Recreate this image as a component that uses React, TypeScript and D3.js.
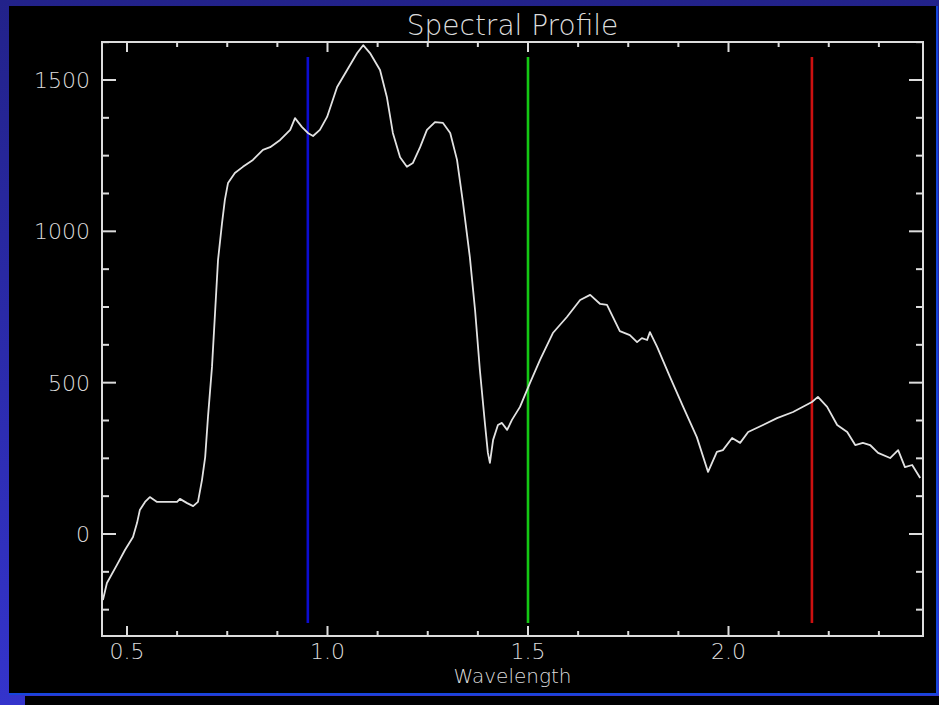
import React from "react";
import { scaleLinear, line, range } from "d3";

// wavelength (µm) and reflectance
const wavelengths = [
  0.44, 0.45, 0.475, 0.495, 0.515, 0.525, 0.532, 0.545, 0.557, 0.575, 0.625, 0.632,
  0.65, 0.665, 0.677, 0.687, 0.695, 0.702, 0.712, 0.72, 0.727, 0.737, 0.744, 0.752,
  0.769, 0.789, 0.814, 0.839, 0.857, 0.882, 0.907, 0.919, 0.936, 0.951, 0.964, 0.981,
  0.999, 1.024, 1.049, 1.074, 1.089, 1.106, 1.131, 1.148, 1.163, 1.181, 1.198, 1.213,
  1.231, 1.248, 1.268, 1.288, 1.306, 1.323, 1.338, 1.355, 1.368, 1.38, 1.393, 1.4,
  1.405, 1.413, 1.425, 1.435, 1.448, 1.46, 1.48, 1.505, 1.53, 1.562, 1.597, 1.63,
  1.655, 1.68, 1.697, 1.729, 1.754, 1.772, 1.784, 1.797, 1.804, 1.822, 1.854, 1.887,
  1.921, 1.949, 1.971, 1.986, 2.009, 2.029, 2.049, 2.086, 2.121, 2.161, 2.208, 2.223,
  2.246, 2.271, 2.296, 2.316, 2.335, 2.353, 2.373, 2.403, 2.423, 2.44, 2.458, 2.478,
];
const reflectance = [
  -218, -162, -102, -53, -10, 36, 79, 106, 122, 106, 106, 116,
  102, 92, 106, 178, 254, 387, 552, 740, 905, 1027, 1103, 1160,
  1193, 1213, 1236, 1269, 1278, 1302, 1335, 1374, 1345, 1325, 1315, 1335,
  1378, 1477, 1533, 1589, 1615, 1589, 1533, 1444, 1325, 1245, 1213, 1226,
  1278, 1335, 1361, 1358, 1325, 1236, 1093, 915, 740, 542, 360, 268,
  235, 311, 360, 367, 344, 377, 420, 499, 575, 664, 717, 773,
  790, 760, 757, 670, 657, 634, 647, 641, 667, 618, 519, 420,
  320, 205, 271, 277, 317, 301, 337, 360, 383, 403, 436, 453,
  420, 360, 337, 294, 301, 294, 268, 251, 277, 221, 228, 185,
];

const bandWavelengths = [0.951, 1.5, 2.208];
const bandColors = ["#0c0cd0", "#14c814", "#cc1010"];
const bandRange = [-294, 1576];

const xTicks = [0.5, 1.0, 1.5, 2.0];
const xTickLabels = ["0.5", "1.0", "1.5", "2.0"];
const yTicks = [0, 500, 1000, 1500];
const yTickLabels = ["0", "500", "1000", "1500"];

const title = "Spectral Profile";
const xTitle = "Wavelength";

const W = 939;
const H = 705;
const plot = { left: 102, right: 923, top: 42, bottom: 636 };
const fg = "#dcdcdc";
const font = "'DejaVu Sans', sans-serif";

export default function App() {
  const x = scaleLinear().domain([0.4377, 2.485]).range([plot.left, plot.right]);
  const y = scaleLinear().domain([-337, 1625.5]).range([plot.bottom, plot.top]);

  const points = wavelengths.map((w, i) => [w, reflectance[i]] as [number, number]);
  const path = line<[number, number]>()
    .x((d) => x(d[0]))
    .y((d) => y(d[1]))(points);

  // minor ticks every 0.125 / 125, like the IDL default
  const xMinor = range(0.5, 2.49, 0.125).filter((v) => !xTicks.some((t) => Math.abs(t - v) < 1e-6));
  const yMinor = range(-250, 1626, 125).filter((v) => !yTicks.includes(v));

  const textProps = { fill: fg, fontFamily: font, fontWeight: 200 };

  return (
    <svg
      width={W}
      height={H}
      style={{ position: "absolute", left: 0, top: 0, display: "block" }}
    >
      <defs>
        <linearGradient id="slide" x1="0" y1="0" x2="0" y2="1">
          <stop offset="0" stopColor="#22228a" />
          <stop offset="1" stopColor="#3434cc" />
        </linearGradient>
      </defs>
      <rect width={W} height={H} fill="url(#slide)" />
      <rect x={9} y={6} width={927} height={687} fill="#000" />
      <rect x={25} y={696} width={W - 25} height={H - 696} fill="#000" />
      <line x1={9} x2={937} y1={694} y2={694} stroke="#1646dc" strokeWidth={2} />
      <line x1={937} x2={937} y1={6} y2={695} stroke="#1646dc" strokeWidth={2} />

      <text x={(plot.left + plot.right) / 2} y={35} textAnchor="middle" fontSize={28} {...textProps}>
        {title}
      </text>

      {/* marker bands */}
      {bandWavelengths.map((b, i) => (
        <line
          key={b}
          x1={x(b)}
          x2={x(b)}
          y1={y(bandRange[0])}
          y2={y(bandRange[1])}
          stroke={bandColors[i]}
          strokeWidth={2.6}
        />
      ))}

      <path d={path || ""} fill="none" stroke="#e2e2e2" strokeWidth={1.8} strokeLinejoin="round" />

      {/* frame */}
      <rect
        x={plot.left}
        y={plot.top}
        width={plot.right - plot.left}
        height={plot.bottom - plot.top}
        fill="none"
        stroke={fg}
        strokeWidth={2}
      />

      {/* x ticks, bottom and top */}
      {xTicks.map((t) => (
        <g key={"xt" + t}>
          <line x1={x(t)} x2={x(t)} y1={plot.bottom} y2={plot.bottom - 10} stroke={fg} strokeWidth={2} />
          <line x1={x(t)} x2={x(t)} y1={plot.top} y2={plot.top + 10} stroke={fg} strokeWidth={2} />
        </g>
      ))}
      {xMinor.map((t) => (
        <g key={"xm" + t}>
          <line x1={x(t)} x2={x(t)} y1={plot.bottom} y2={plot.bottom - 5} stroke={fg} strokeWidth={2} />
          <line x1={x(t)} x2={x(t)} y1={plot.top} y2={plot.top + 5} stroke={fg} strokeWidth={2} />
        </g>
      ))}
      {xTicks.map((t, i) => (
        <text key={"xl" + t} x={x(t)} y={659} textAnchor="middle" fontSize={22} {...textProps}>
          {xTickLabels[i]}
        </text>
      ))}
      <text x={(plot.left + plot.right) / 2} y={683} textAnchor="middle" fontSize={20} {...textProps}>
        {xTitle}
      </text>

      {/* y ticks, left and right */}
      {yTicks.map((t) => (
        <g key={"yt" + t}>
          <line x1={plot.left} x2={plot.left + 14} y1={y(t)} y2={y(t)} stroke={fg} strokeWidth={2} />
          <line x1={plot.right} x2={plot.right - 14} y1={y(t)} y2={y(t)} stroke={fg} strokeWidth={2} />
        </g>
      ))}
      {yMinor.map((t) => (
        <g key={"ym" + t}>
          <line x1={plot.left} x2={plot.left + 7} y1={y(t)} y2={y(t)} stroke={fg} strokeWidth={2} />
          <line x1={plot.right} x2={plot.right - 7} y1={y(t)} y2={y(t)} stroke={fg} strokeWidth={2} />
        </g>
      ))}
      {yTicks.map((t, i) => (
        <text key={"yl" + t} x={90} y={y(t) + 8} textAnchor="end" fontSize={22} {...textProps}>
          {yTickLabels[i]}
        </text>
      ))}
    </svg>
  );
}
